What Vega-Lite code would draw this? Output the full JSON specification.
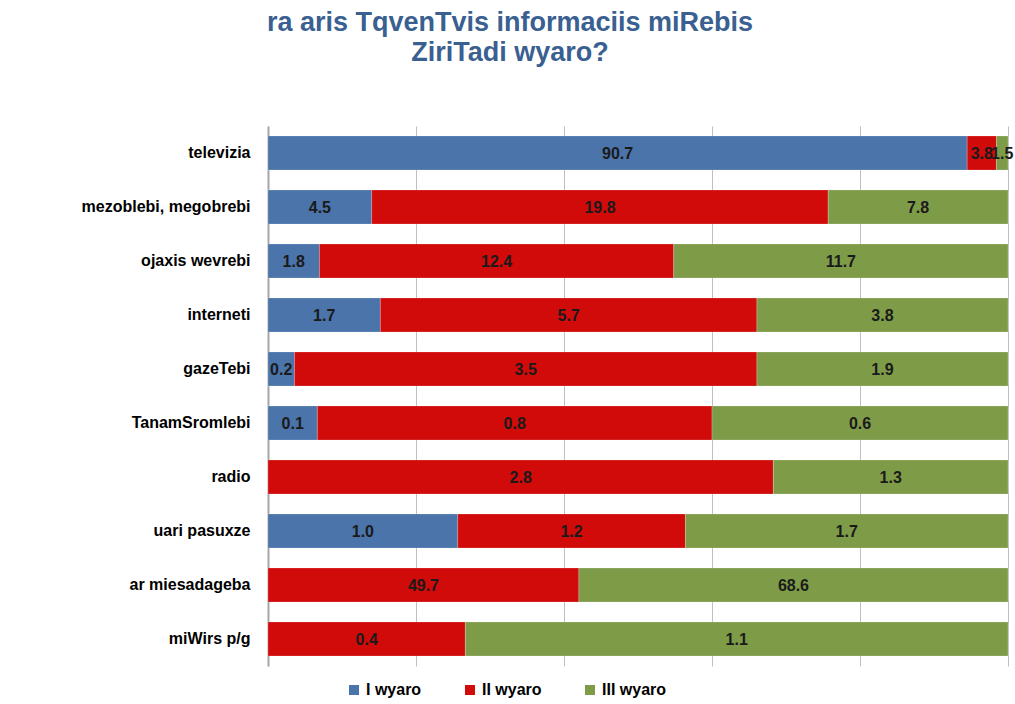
{
  "$schema": "https://vega.github.io/schema/vega-lite/v6.json",
  "autosize": {"type": "none"},
  "width": 740,
  "height": 540,
  "padding": {"left": 268, "top": 126, "right": 7, "bottom": 38},
  "background": "white",
  "config": {"view": {"stroke": null}},
  "title": {
    "text": ["ra aris TqvenTvis informaciis miRebis", "ZiriTadi wyaro?"],
    "anchor": "middle",
    "frame": "group",
    "dx": -128,
    "offset": 59,
    "font": "Liberation Sans",
    "fontSize": 27,
    "fontWeight": "bold",
    "color": "#3A5F91",
    "lineHeight": 30
  },
  "data": {
    "values": [
      {"source": "televizia", "group": "I wyaro", "ord": 1, "value": 90.7},
      {"source": "televizia", "group": "II wyaro", "ord": 2, "value": 3.8},
      {"source": "televizia", "group": "III wyaro", "ord": 3, "value": 1.5},
      {"source": "mezoblebi, megobrebi", "group": "I wyaro", "ord": 1, "value": 4.5},
      {"source": "mezoblebi, megobrebi", "group": "II wyaro", "ord": 2, "value": 19.8},
      {"source": "mezoblebi, megobrebi", "group": "III wyaro", "ord": 3, "value": 7.8},
      {"source": "ojaxis wevrebi", "group": "I wyaro", "ord": 1, "value": 1.8},
      {"source": "ojaxis wevrebi", "group": "II wyaro", "ord": 2, "value": 12.4},
      {"source": "ojaxis wevrebi", "group": "III wyaro", "ord": 3, "value": 11.7},
      {"source": "interneti", "group": "I wyaro", "ord": 1, "value": 1.7},
      {"source": "interneti", "group": "II wyaro", "ord": 2, "value": 5.7},
      {"source": "interneti", "group": "III wyaro", "ord": 3, "value": 3.8},
      {"source": "gazeTebi", "group": "I wyaro", "ord": 1, "value": 0.2},
      {"source": "gazeTebi", "group": "II wyaro", "ord": 2, "value": 3.5},
      {"source": "gazeTebi", "group": "III wyaro", "ord": 3, "value": 1.9},
      {"source": "TanamSromlebi", "group": "I wyaro", "ord": 1, "value": 0.1},
      {"source": "TanamSromlebi", "group": "II wyaro", "ord": 2, "value": 0.8},
      {"source": "TanamSromlebi", "group": "III wyaro", "ord": 3, "value": 0.6},
      {"source": "radio", "group": "II wyaro", "ord": 2, "value": 2.8},
      {"source": "radio", "group": "III wyaro", "ord": 3, "value": 1.3},
      {"source": "uari pasuxze", "group": "I wyaro", "ord": 1, "value": 1.0},
      {"source": "uari pasuxze", "group": "II wyaro", "ord": 2, "value": 1.2},
      {"source": "uari pasuxze", "group": "III wyaro", "ord": 3, "value": 1.7},
      {"source": "ar miesadageba", "group": "II wyaro", "ord": 2, "value": 49.7},
      {"source": "ar miesadageba", "group": "III wyaro", "ord": 3, "value": 68.6},
      {"source": "miWirs p/g", "group": "II wyaro", "ord": 2, "value": 0.4},
      {"source": "miWirs p/g", "group": "III wyaro", "ord": 3, "value": 1.1}
    ]
  },
  "transform": [
    {"stack": "value", "groupby": ["source"], "offset": "normalize", "sort": [{"field": "ord", "order": "ascending"}], "as": ["x0", "x1"]},
    {"calculate": "(datum.x0 + datum.x1) / 2", "as": "xm"}
  ],
  "encoding": {
    "y": {
      "field": "source",
      "type": "nominal",
      "sort": ["televizia", "mezoblebi, megobrebi", "ojaxis wevrebi", "interneti", "gazeTebi", "TanamSromlebi", "radio", "uari pasuxze", "ar miesadageba", "miWirs p/g"],
      "scale": {"paddingInner": 0.37, "paddingOuter": 0.185},
      "axis": {
        "title": null,
        "labelFont": "Liberation Sans",
        "labelFontSize": 16,
        "labelFontWeight": "bold",
        "labelColor": "#000000",
        "labelPadding": 18,
        "ticks": false,
        "domain": true,
        "domainColor": "#A6A6A6",
        "domainWidth": 2
      }
    }
  },
  "layer": [
    {
      "mark": {"type": "bar", "stroke": "#ffffff", "strokeOpacity": 0.4, "strokeWidth": 0.5},
      "encoding": {
        "x": {
          "field": "x0",
          "type": "quantitative",
          "scale": {"domain": [0, 1], "nice": false},
          "axis": {"title": null, "labels": false, "ticks": false, "domain": false, "grid": true, "gridColor": "#BFBFBF", "gridWidth": 1, "values": [0, 0.2, 0.4, 0.6, 0.8, 1]}
        },
        "x2": {"field": "x1"},
        "color": {
          "field": "group",
          "type": "nominal",
          "scale": {"domain": ["I wyaro", "II wyaro", "III wyaro"], "range": ["#4A74AA", "#D10A0A", "#7E9C48"]},
          "legend": {
            "title": null,
            "orient": "none",
            "legendX": 78,
            "legendY": 556,
            "direction": "horizontal",
            "symbolType": "square",
            "symbolSize": 100,
            "symbolStrokeWidth": 0,
            "labelFont": "Liberation Sans",
            "labelFontSize": 16,
            "labelFontWeight": "bold",
            "labelColor": "#000000",
            "columnPadding": 40,
            "labelOffset": 4
          }
        }
      }
    },
    {
      "mark": {"type": "text", "font": "Liberation Sans", "fontSize": 16, "fontWeight": "bold", "color": "#1A1A1A", "baseline": "middle", "align": "center", "dy": 1},
      "encoding": {
        "x": {"field": "xm", "type": "quantitative"},
        "text": {"field": "value", "type": "quantitative", "format": ".1f"}
      }
    }
  ]
}
